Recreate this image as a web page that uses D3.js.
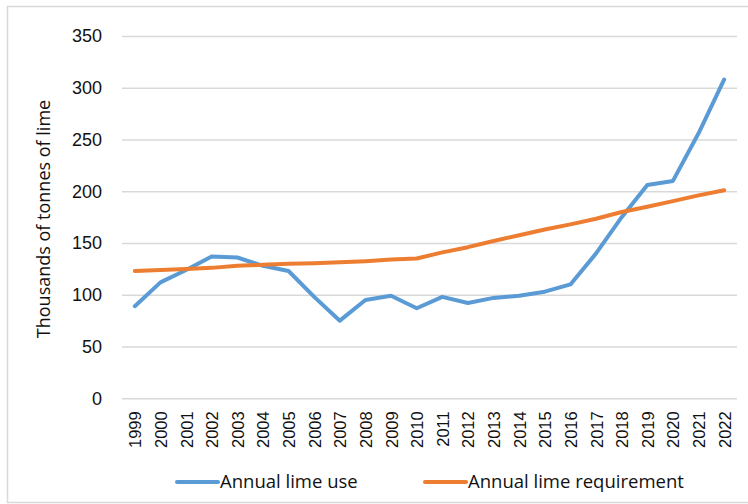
<!DOCTYPE html>
<html>
<head>
<meta charset="utf-8">
<script src="https://cdn.jsdelivr.net/npm/d3@7"></script>
<style>
  body { margin: 0; background: #fff; }
  svg { font-family: "Open Sans", "Noto Sans", sans-serif; }
</style>
</head>
<body>
<svg id="chart" width="748" height="504"></svg>
<script>
const years = ["1999", "2000", "2001", "2002", "2003", "2004", "2005", "2006",
  "2007", "2008", "2009", "2010", "2011", "2012", "2013", "2014", "2015",
  "2016", "2017", "2018", "2019", "2020", "2021", "2022"];

// thousands of tonnes
const limeUse = [89, 112, 124, 137, 136, 128, 123, 98, 75, 95, 99, 87,
  98, 92, 97, 99, 103, 110, 140, 175, 206, 210, 256, 308];
const limeRequirement = [123, 124, 125, 126, 128, 129, 130, 130.5, 131.5, 132.5, 134, 135,
  141, 146, 152, 157.5, 163, 168, 173.5, 180, 185, 190.5, 196, 201];

const yTicks = [0, 50, 100, 150, 200, 250, 300, 350];

const seriesNames = ["Annual lime use", "Annual lime requirement"];
const seriesColors = ["#5b9bd5", "#ed7d31"];

function drawChart() {
  const svg = d3.select("#chart");

  // outer border like the spreadsheet chart frame
  svg.append("rect")
    .attr("x", 7.5)
    .attr("y", 6.5)
    .attr("width", 745)
    .attr("height", 496)
    .attr("fill", "none")
    .attr("stroke", "#d9d9d9")
    .attr("stroke-width", 1.5);

  const left = 122, right = 737, top = 36, bottom = 398.3;

  const x = d3.scalePoint().domain(years).range([left, right]).padding(0.5);
  const y = d3.scaleLinear().domain([0, 350]).range([bottom, top]);

  // gridlines + y labels
  const yAxis = svg.append("g")
    .attr("transform", "translate(" + left + ",0)")
    .call(d3.axisLeft(y).tickValues(yTicks).tickSize(-(right - left)).tickPadding(20));
  yAxis.select(".domain").remove();
  yAxis.selectAll(".tick line")
    .attr("stroke", "#d9d9d9")
    .attr("stroke-width", 1.5);
  yAxis.selectAll(".tick text")
    .attr("font-size", "18px")
    .attr("fill", "#111");

  // x labels, rotated
  const xAxis = svg.append("g")
    .attr("transform", "translate(0," + bottom + ")")
    .call(d3.axisBottom(x).tickSize(0));
  xAxis.select(".domain").remove();
  xAxis.selectAll(".tick text")
    .attr("font-size", "16.5px")
    .attr("fill", "#111")
    .attr("transform", "rotate(-90)")
    .attr("text-anchor", "end")
    .attr("x", -13)
    .attr("y", 0)
    .attr("dy", "0.36em");

  // axis title
  svg.append("text")
    .attr("transform", "translate(50,219) rotate(-90)")
    .attr("text-anchor", "middle")
    .attr("font-size", "18px")
    .attr("fill", "#111")
    .text("Thousands of tonnes of lime");

  const line = d3.line()
    .x((d, i) => x(years[i]))
    .y((d) => y(d));

  const allSeries = [limeUse, limeRequirement];

  svg.append("g")
    .selectAll("path")
    .data(allSeries)
    .enter()
    .append("path")
    .attr("d", line)
    .attr("fill", "none")
    .attr("stroke", (d, i) => seriesColors[i])
    .attr("stroke-width", 4)
    .attr("stroke-linejoin", "round")
    .attr("stroke-linecap", "round");

  // legend
  const legendX = [177, 425];
  const legend = svg.append("g")
    .selectAll("g")
    .data(seriesNames)
    .enter()
    .append("g")
    .attr("transform", (d, i) => "translate(" + legendX[i] + ",482)");

  legend.append("line")
    .attr("x1", 0)
    .attr("x2", 41)
    .attr("stroke", (d, i) => seriesColors[i])
    .attr("stroke-width", 4)
    .attr("stroke-linecap", "round");

  legend.append("text")
    .attr("x", 43)
    .attr("dy", "0.35em")
    .attr("font-size", "18.5px")
    .attr("fill", "#111")
    .text((d) => d);
}

drawChart();
</script>
</body>
</html>
